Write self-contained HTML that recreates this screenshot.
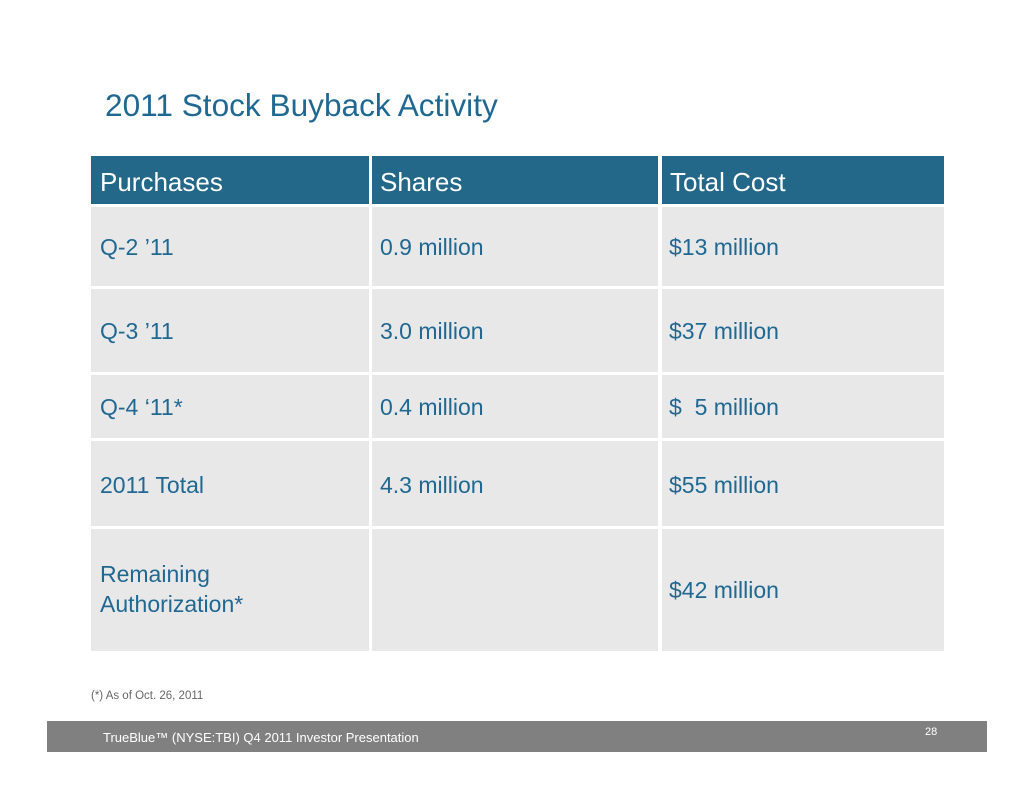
<!DOCTYPE html>
<html>
<head>
<meta charset="utf-8">
<style>
  html, body { margin:0; padding:0; background:#fff; }
  body { width:1034px; height:799px; position:relative; overflow:hidden;
         font-family:"Liberation Sans", Arial, sans-serif; }
  .abs { position:absolute; white-space:nowrap; line-height:1; }
  .cell { position:absolute; background:#e8e8e8; }
  .hdr { position:absolute; background:#236789; }
  .ht { color:#fff; font-size:26px; }
  .bt { color:#1f6892; font-size:23px; }
</style>
</head>
<body>
  <div class="abs" style="left:105px; top:89.5px; font-size:31.6px; color:#1f6892;">2011 Stock Buyback Activity</div>

  <!-- header -->
  <div class="hdr" style="left:91px; top:156px; width:278px; height:48px;"></div>
  <div class="hdr" style="left:372px; top:156px; width:286px; height:48px;"></div>
  <div class="hdr" style="left:662px; top:156px; width:282px; height:48px;"></div>
  <div class="abs ht" style="left:100px; top:169px;">Purchases</div>
  <div class="abs ht" style="left:380px; top:169px;">Shares</div>
  <div class="abs ht" style="left:670px; top:169px;">Total Cost</div>

  <!-- row 1 -->
  <div class="cell" style="left:91px; top:207px; width:278px; height:79px;"></div>
  <div class="cell" style="left:372px; top:207px; width:286px; height:79px;"></div>
  <div class="cell" style="left:662px; top:207px; width:282px; height:79px;"></div>
  <!-- row 2 -->
  <div class="cell" style="left:91px; top:289px; width:278px; height:83px;"></div>
  <div class="cell" style="left:372px; top:289px; width:286px; height:83px;"></div>
  <div class="cell" style="left:662px; top:289px; width:282px; height:83px;"></div>
  <!-- row 3 -->
  <div class="cell" style="left:91px; top:375px; width:278px; height:63px;"></div>
  <div class="cell" style="left:372px; top:375px; width:286px; height:63px;"></div>
  <div class="cell" style="left:662px; top:375px; width:282px; height:63px;"></div>
  <!-- row 4 -->
  <div class="cell" style="left:91px; top:441px; width:278px; height:85px;"></div>
  <div class="cell" style="left:372px; top:441px; width:286px; height:85px;"></div>
  <div class="cell" style="left:662px; top:441px; width:282px; height:85px;"></div>
  <!-- row 5 -->
  <div class="cell" style="left:91px; top:529px; width:278px; height:122px;"></div>
  <div class="cell" style="left:372px; top:529px; width:286px; height:122px;"></div>
  <div class="cell" style="left:662px; top:529px; width:282px; height:122px;"></div>

  <div class="abs bt" style="left:100px; top:235.5px;">Q-2 ’11</div>
  <div class="abs bt" style="left:380px; top:235.5px;">0.9 million</div>
  <div class="abs bt" style="left:669px; top:235.5px;">$13 million</div>

  <div class="abs bt" style="left:100px; top:319.5px;">Q-3 ’11</div>
  <div class="abs bt" style="left:380px; top:319.5px;">3.0 million</div>
  <div class="abs bt" style="left:669px; top:319.5px;">$37 million</div>

  <div class="abs bt" style="left:100px; top:395.5px;">Q-4 ‘11*</div>
  <div class="abs bt" style="left:380px; top:395.5px;">0.4 million</div>
  <div class="abs bt" style="left:669px; top:395.5px;">$&nbsp; 5 million</div>

  <div class="abs bt" style="left:100px; top:473.5px;">2011 Total</div>
  <div class="abs bt" style="left:380px; top:473.5px;">4.3 million</div>
  <div class="abs bt" style="left:669px; top:473.5px;">$55 million</div>

  <div class="abs bt" style="left:100px; top:562.5px;">Remaining</div>
  <div class="abs bt" style="left:100px; top:592.5px;">Authorization*</div>
  <div class="abs bt" style="left:669px; top:578.5px;">$42 million</div>

  <div class="abs" style="left:91px; top:691px; font-size:11.5px; color:#666;">(*) As of Oct. 26, 2011</div>

  <div style="position:absolute; left:47px; top:721px; width:940px; height:31px; background:#808080;"></div>
  <div class="abs" style="left:103px; top:731px; font-size:13px; color:#fff;">TrueBlue™ (NYSE:TBI) Q4 2011 Investor Presentation</div>
  <div class="abs" style="left:925px; top:727px; font-size:11px; color:#fff;">28</div>
</body>
</html>
